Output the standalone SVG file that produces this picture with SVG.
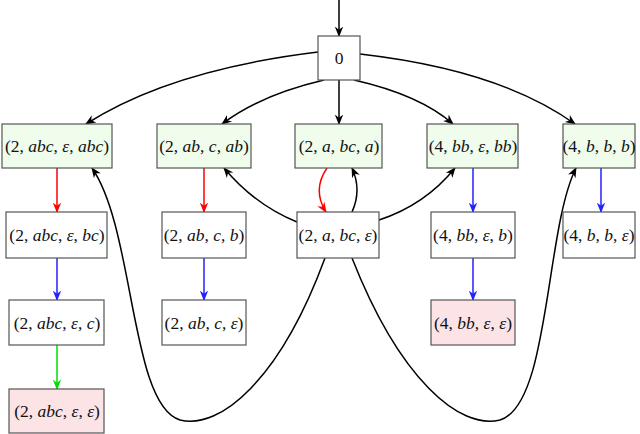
<svg xmlns="http://www.w3.org/2000/svg" width="640" height="434" viewBox="0 0 640 434">
<style>
.n rect{stroke:#555;stroke-width:1.2;fill:#fff}
.g rect{fill:#f0fcec}
.p rect{fill:#fce4e6}
text{font-family:"Liberation Serif","DejaVu Serif",serif;font-size:17.5px;text-anchor:middle;fill:#111}
.i{font-style:italic}
.e path{fill:none;stroke-width:1.5}
</style>
<defs>
<marker id="k" viewBox="0 0 10 10" refX="9" refY="5" markerWidth="7" markerHeight="7" orient="auto"><path d="M0,1L10,5L0,9L3,5z" fill="#000"/></marker>
<marker id="r" viewBox="0 0 10 10" refX="9" refY="5" markerWidth="7" markerHeight="7" orient="auto"><path d="M0,1L10,5L0,9L3,5z" fill="#f00"/></marker>
<marker id="b" viewBox="0 0 10 10" refX="9" refY="5" markerWidth="7" markerHeight="7" orient="auto"><path d="M0,1L10,5L0,9L3,5z" fill="#22f"/></marker>
<marker id="gr" viewBox="0 0 10 10" refX="9" refY="5" markerWidth="7" markerHeight="7" orient="auto"><path d="M0,1L10,5L0,9L3,5z" fill="#0d0"/></marker>
</defs>
<g class="e">
<path d="M339,0V36" stroke="#000" marker-end="url(#k)"/>
<path d="M318,52Q170,70 86,124" stroke="#000" marker-end="url(#k)"/>
<path d="M324,80Q260,95 222,124" stroke="#000" marker-end="url(#k)"/>
<path d="M339,80V124" stroke="#000" marker-end="url(#k)"/>
<path d="M354,80Q420,95 453,124" stroke="#000" marker-end="url(#k)"/>
<path d="M360,54Q500,70 575,124" stroke="#000" marker-end="url(#k)"/>
<path d="M327,168Q312,190 326,212" stroke="#f00" marker-end="url(#r)"/>
<path d="M352,212Q362,190 352,168" stroke="#000" marker-end="url(#k)"/>
<path d="M297,222Q255,205 224,168" stroke="#000" marker-end="url(#k)"/>
<path d="M379,220Q425,205 455,168" stroke="#000" marker-end="url(#k)"/>
<path d="M325,258C280,380 220,430 180,420C130,405 135,230 92,168" stroke="#000" marker-end="url(#k)"/>
<path d="M352,258C400,380 460,430 500,420C550,405 545,230 576,168" stroke="#000" marker-end="url(#k)"/>
<path d="M57,168V212" stroke="#f00" marker-end="url(#r)"/>
<path d="M57,258V300" stroke="#22f" marker-end="url(#b)"/>
<path d="M57,345V389" stroke="#0d0" marker-end="url(#gr)"/>
<path d="M204,168V212" stroke="#f00" marker-end="url(#r)"/>
<path d="M204,258V300" stroke="#22f" marker-end="url(#b)"/>
<path d="M473,168V212" stroke="#22f" marker-end="url(#b)"/>
<path d="M473,258V300" stroke="#22f" marker-end="url(#b)"/>
<path d="M601,168V212" stroke="#22f" marker-end="url(#b)"/>
</g>
<g id="n0" class="n"><rect x="318" y="36" width="42" height="44"/><text x="339" y="64">0</text></g>
<g id="nA" class="n g"><rect x="2" y="124" width="110" height="44"/><text x="57" y="152">(2, <tspan class="i">abc</tspan>, <tspan class="i">ε</tspan>, <tspan class="i">abc</tspan>)</text></g>
<g id="nB" class="n g"><rect x="157" y="124" width="94" height="44"/><text x="204" y="152">(2, <tspan class="i">ab</tspan>, <tspan class="i">c</tspan>, <tspan class="i">ab</tspan>)</text></g>
<g id="nC" class="n g"><rect x="295" y="124" width="87" height="44"/><text x="339" y="152">(2, <tspan class="i">a</tspan>, <tspan class="i">bc</tspan>, <tspan class="i">a</tspan>)</text></g>
<g id="nD" class="n g"><rect x="427" y="124" width="91" height="44"/><text x="473" y="152">(4, <tspan class="i">bb</tspan>, <tspan class="i">ε</tspan>, <tspan class="i">bb</tspan>)</text></g>
<g id="nE" class="n g"><rect x="563" y="124" width="72" height="44"/><text x="599" y="152">(4, <tspan class="i">b</tspan>, <tspan class="i">b</tspan>, <tspan class="i">b</tspan>)</text></g>
<g id="nA2" class="n"><rect x="6" y="212" width="101" height="46"/><text x="57" y="241">(2, <tspan class="i">abc</tspan>, <tspan class="i">ε</tspan>, <tspan class="i">bc</tspan>)</text></g>
<g id="nB2" class="n"><rect x="162" y="212" width="84" height="46"/><text x="204" y="241">(2, <tspan class="i">ab</tspan>, <tspan class="i">c</tspan>, <tspan class="i">b</tspan>)</text></g>
<g id="nC2" class="n"><rect x="297" y="212" width="82" height="46"/><text x="338" y="241">(2, <tspan class="i">a</tspan>, <tspan class="i">bc</tspan>, <tspan class="i">ε</tspan>)</text></g>
<g id="nD2" class="n"><rect x="431" y="212" width="84" height="46"/><text x="473" y="241">(4, <tspan class="i">bb</tspan>, <tspan class="i">ε</tspan>, <tspan class="i">b</tspan>)</text></g>
<g id="nE2" class="n"><rect x="563" y="212" width="72" height="46"/><text x="599" y="241">(4, <tspan class="i">b</tspan>, <tspan class="i">b</tspan>, <tspan class="i">ε</tspan>)</text></g>
<g id="nA3" class="n"><rect x="9" y="300" width="95" height="45"/><text x="57" y="329">(2, <tspan class="i">abc</tspan>, <tspan class="i">ε</tspan>, <tspan class="i">c</tspan>)</text></g>
<g id="nB3" class="n"><rect x="162" y="300" width="84" height="45"/><text x="204" y="329">(2, <tspan class="i">ab</tspan>, <tspan class="i">c</tspan>, <tspan class="i">ε</tspan>)</text></g>
<g id="nD3" class="n p"><rect x="431" y="300" width="84" height="45"/><text x="473" y="329">(4, <tspan class="i">bb</tspan>, <tspan class="i">ε</tspan>, <tspan class="i">ε</tspan>)</text></g>
<g id="nA4" class="n p"><rect x="9" y="389" width="95" height="44"/><text x="57" y="417">(2, <tspan class="i">abc</tspan>, <tspan class="i">ε</tspan>, <tspan class="i">ε</tspan>)</text></g>
</svg>
